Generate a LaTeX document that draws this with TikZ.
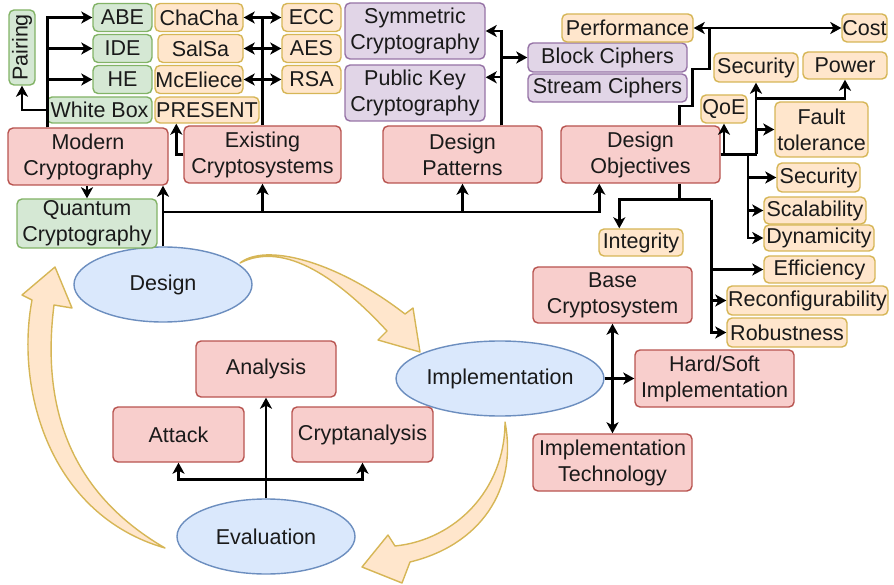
\documentclass[tikz,border=0pt]{standalone}
\usepackage{fontspec}
\setmainfont{Liberation Sans}
\usetikzlibrary{arrows.meta,calc,shapes.geometric}

\definecolor{gfill}{HTML}{D5E8D4}\definecolor{gline}{HTML}{82B366}
\definecolor{ofill}{HTML}{FFE6CC}\definecolor{oline}{HTML}{D6B656}
\definecolor{pfill}{HTML}{E1D5E7}\definecolor{pline}{HTML}{9673A6}
\definecolor{rfill}{HTML}{F8CECC}\definecolor{rline}{HTML}{B85450}
\definecolor{bfill}{HTML}{DAE8FC}\definecolor{bline}{HTML}{6C8EBF}
\definecolor{ink}{HTML}{1A1A1A}

\tikzset{
  base/.style={rectangle, rounded corners=5pt, line width=1.4pt, inner sep=0pt,
    align=center, text=ink, font=\fontsize{21.5}{26}\selectfont},
  gbox/.style={base, fill=gfill, draw=gline},
  obox/.style={base, fill=ofill, draw=oline},
  pbox/.style={base, fill=pfill, draw=pline},
  rbox/.style={base, fill=rfill, draw=rline},
  phase/.style={ellipse, fill=bfill, draw=bline, line width=1.4pt, inner sep=0pt,
    minimum width=178pt, minimum height=75pt, text=ink, font=\fontsize{21.5}{26}\selectfont},
  link/.style={line width=2.4pt, draw=black},
  cycle arrow/.style={fill=ofill, draw=oline, line width=1.4pt, line join=round},
  >={Stealth[length=11pt,width=12pt,inset=3pt]}
}

\begin{document}
\begin{tikzpicture}[x=1pt,y=-1pt]
\useasboundingbox (0,0) rectangle (894,585);

% ---- the three curved process arrows ----
\path[cycle arrow] (240,263) .. controls (265,243) and (335,260) .. (405,314)
  -- (413,308) -- (420,352) -- (378,340) -- (387,331)
  .. controls (340,280) and (285,240) .. (240,263) -- cycle;
\path[cycle arrow] (505,422) .. controls (518,490) and (480,545) .. (410,562)
  -- (402,583) -- (362,567) -- (388,535) -- (395,546)
  .. controls (455,540) and (505,490) .. (505,422) -- cycle;
\path[cycle arrow] (165,548) .. controls (50,515) and (15,390) .. (32,300)
  -- (22,295) -- (55,267) -- (72,308) -- (54,305)
  .. controls (42,400) and (65,490) .. (165,548) -- cycle;

% ---- phases ----
\node[phase] (design) at (163,284.5) {Design};
\node[phase] (impl) at (500,378.5) {Implementation};
\node[phase] (eval) at (266,536.5) {Evaluation};

% ---- design branch ----
\node[gbox, minimum width=26, minimum height=75] (pairing) at (22,47.5) {\rotatebox{90}{Pairing}};
\node[gbox, minimum width=59, minimum height=28] (abe) at (122.5,17.5) {ABE};
\node[gbox, minimum width=59, minimum height=28] (ide) at (122.5,48.5) {IDE};
\node[gbox, minimum width=59, minimum height=28] (he) at (122.5,79.5) {HE};
\node[gbox, minimum width=105, minimum height=26] (whitebox) at (99.5,110) {White Box};
\node[gbox, minimum width=140, minimum height=49] (quantum) at (87,223.5) {Quantum\\Cryptography};

\node[obox, minimum width=88, minimum height=28] (chacha) at (199,17.5) {ChaCha};
\node[obox, minimum width=85, minimum height=28] (salsa) at (200.5,48.5) {SalSa};
\node[obox, minimum width=88, minimum height=28] (mceliece) at (199,79.5) {McEliece};
\node[obox, minimum width=104, minimum height=26] (present) at (207,110) {PRESENT};
\node[obox, minimum width=59, minimum height=28] (ecc) at (311.5,17.5) {ECC};
\node[obox, minimum width=59, minimum height=28] (aes) at (311.5,48.5) {AES};
\node[obox, minimum width=59, minimum height=28] (rsa) at (311.5,79.5) {RSA};

\node[pbox, minimum width=140, minimum height=56] (symm) at (415,31) {Symmetric\\Cryptography};
\node[pbox, minimum width=140, minimum height=56] (pubkey) at (415,93) {Public Key\\Cryptography};
\node[pbox, minimum width=159, minimum height=29] (block) at (607.5,57.5) {Block Ciphers};
\node[pbox, minimum width=159, minimum height=28] (stream) at (607.5,88) {Stream Ciphers};

\node[rbox, minimum width=160, minimum height=57] (modern) at (88,156.5) {Modern\\Cryptography};
\node[rbox, minimum width=157, minimum height=57] (existing) at (262.5,154.5) {Existing\\Cryptosystems};
\node[rbox, minimum width=159, minimum height=57] (patterns) at (462.5,154.5) {Design\\Patterns};
\node[rbox, minimum width=159, minimum height=57] (objectives) at (640.5,154.5) {Design\\Objectives};

% ---- design objectives ----
\node[obox, minimum width=131, minimum height=28] (perf) at (627.5,28) {Performance};
\node[obox, minimum width=45, minimum height=28] (cost) at (864.5,28) {Cost};
\node[obox, minimum width=84, minimum height=29] (sec1) at (756,67.5) {Security};
\node[obox, minimum width=84, minimum height=27] (power) at (845,65.5) {Power};
\node[obox, minimum width=46, minimum height=28] (qoe) at (724,109) {QoE};
\node[obox, minimum width=93, minimum height=55] (fault) at (821.5,129.5) {Fault\\tolerance};
\node[obox, minimum width=83, minimum height=29] (sec2) at (818.5,177.5) {Security};
\node[obox, minimum width=102, minimum height=27] (scal) at (815,210.5) {Scalability};
\node[obox, minimum width=110, minimum height=26] (dyn) at (819,238) {Dynamicity};
\node[obox, minimum width=84, minimum height=27] (integ) at (641,242.5) {Integrity};
\node[obox, minimum width=111, minimum height=27] (eff) at (819.5,269.5) {Efficiency};
\node[obox, minimum width=161, minimum height=29] (reconf) at (807.5,300.5) {Reconfigurability};
\node[obox, minimum width=120, minimum height=29] (robust) at (787,332.5) {Robustness};

% ---- implementation and evaluation ----
\node[rbox, minimum width=159, minimum height=56] (basecs) at (612.5,295) {Base\\Cryptosystem};
\node[rbox, minimum width=159, minimum height=57] (hardsoft) at (714.5,378.5) {Hard/Soft\\Implementation};
\node[rbox, minimum width=159, minimum height=57] (impltech) at (612.5,462.5) {Implementation\\Technology};
\node[rbox, minimum width=140, minimum height=56] (analysis) at (266,369) {Analysis};
\node[rbox, minimum width=131, minimum height=55] (attack) at (178.5,434.5) {Attack};
\node[rbox, minimum width=141, minimum height=55] (cryptan) at (362.5,434.5) {Cryptanalysis};

% ---- connectors: modern cryptography ----
\draw[link,->] (modern.south -| quantum.north) -- (quantum.north);
\coordinate (mtop) at ($(modern.north west)+(40,0)$);
\draw[link,->] (mtop) |- (abe.west);
\draw[link,->] (mtop) |- (ide.west);
\draw[link,->] (mtop) |- (he.west);
\draw[link,->] (whitebox.west) -| (pairing.south);

% ---- connectors: existing cryptosystems ----
\draw[link,->] (existing.west) -| ($(present.south west)+(22,0)$);
\draw[link] (existing.north) -- (existing.north |- ecc.west);
\draw[link,<->] (chacha.east) -- (ecc.west);
\draw[link,<->] (salsa.east) -- (aes.west);
\draw[link,<->] (mceliece.east) -- (rsa.west);

% ---- connectors: design bus ----
\coordinate (bus) at ($(design.north)+(0,-34)$);
\draw[link,->] (design.north) -- (design.north |- modern.south);
\draw[link,->] (bus) -| (existing.south);
\draw[link,->] (bus) -| (patterns.south);
\draw[link,->] (bus) -| ($(objectives.south west)+(39,0)$);

% ---- connectors: design patterns ----
\coordinate (ptop) at ($(patterns.north west)+(119,0)$);
\draw[link,->] (ptop) |- (symm.east);
\draw[link,->] (ptop) |- ($(pubkey.north east)+(0,13)$);
\draw[link,->] (ptop) |- (block.west);

% ---- connectors: design objectives ----
\draw[link,->] ($(objectives.north west)+(119,0)$) -- ++(0,-19) -- ++(13,0) -- ++(0,-37)
  -- ++(17,0) coordinate (stair) |- (perf.east);
\draw[link,->] (stair |- perf.east) -- (cost.west);
\draw[link,->] (objectives.east) -| (qoe.south);
\draw[link,->] (objectives.east) -| (sec1.south);
\draw[link,->] ($(objectives.east)+(36,0)$) |- (fault.west);
\draw[link,->] ($(objectives.east)+(36,-56)$) -| (power.south);
\coordinate (oright) at ($(objectives.east)+(27,0)$);
\draw[link,->] (oright) |- (sec2.west);
\draw[link,->] (oright) |- (scal.west);
\draw[link,->] (oright) |- (dyn.west);
\coordinate (obA) at ($(objectives.south west)+(119,16)$);
\coordinate (obB) at ($(obA)+(32,0)$);
\draw[link] ($(objectives.south west)+(119,0)$) -- (obA) -- (obB);
\draw[link,->] (obA) -| ($(integ.north west)+(21,0)$);
\draw[link,->] (obB) |- (eff.west);
\draw[link,->] (obB) |- (reconf.west);
\draw[link,->] (obB) |- (robust.west);

% ---- connectors: implementation ----
\draw[link,->] (impl.east) -- (hardsoft.west);
\draw[link,<->] (basecs.south) -- (impltech.north);

% ---- connectors: evaluation ----
\coordinate (ebus) at ($(eval.north)+(0,-19)$);
\draw[link,->] (eval.north) -- (analysis.south);
\draw[link,->] (ebus) -| (attack.south);
\draw[link,->] (ebus) -| (cryptan.south);
\end{tikzpicture}
\end{document}
